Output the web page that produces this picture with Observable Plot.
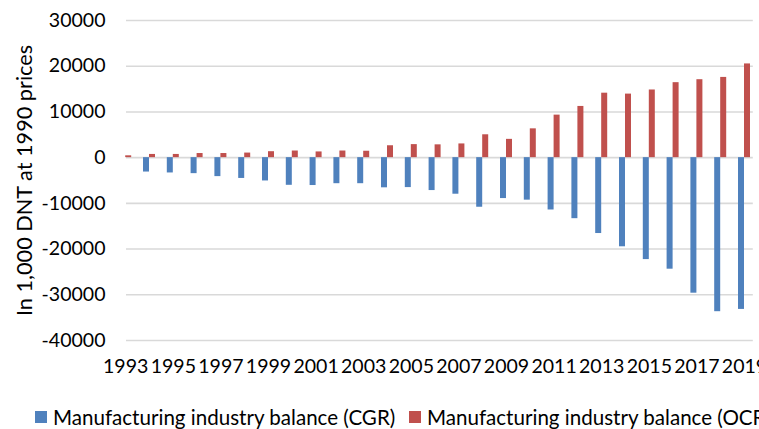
<!DOCTYPE html>
<html>
<head>
<meta charset="utf-8">
<script src="https://cdn.jsdelivr.net/npm/d3@7"></script>
<script src="https://cdn.jsdelivr.net/npm/@observablehq/plot@0.6"></script>
<style>
  html, body { margin: 0; padding: 0; overflow: hidden; background: #fff; }
  body { width: 759px; height: 429px; font-family: Lato, "Open Sans", sans-serif; }
  #chart { width: 759px; overflow: hidden; }
  #legend { position: relative; height: 39px; color: #000; white-space: nowrap; }
  .item { position: absolute; display: flex; align-items: center; height: 30px; top: 12px; }
  .sw { width: 12px; height: 12px; margin-right: 6px; flex: none; }
</style>
</head>
<body>
<div id="chart"></div>
<div id="legend"></div>
<script>
const years = [1993,1994,1995,1996,1997,1998,1999,2000,2001,2002,2003,2004,2005,2006,2007,2008,2009,2010,2011,2012,2013,2014,2015,2016,2017,2018,2019];
const cgr = [null,-3150,-3350,-3500,-4150,-4550,-5100,-6050,-6100,-5700,-5700,-6600,-6550,-7200,-8000,-10850,-8950,-9300,-11450,-13350,-16600,-19500,-22300,-24400,-29650,-33700,-33200];
const ocr = [400,700,700,900,900,1000,1300,1450,1250,1450,1400,2600,2850,2800,3000,5000,4000,6300,9300,11200,14100,13900,14800,16400,17050,17550,20500];
const seriesNames = ["Manufacturing industry balance (CGR)", "Manufacturing industry balance (OCR)"];
const colors = ["#4f81bd", "#c0504d"];
const yTicks = [-40000,-30000,-20000,-10000,0,10000,20000,30000];
const xTicks = years.filter(y => y % 2 === 1);
const yTitle = "In 1,000 DNT at 1990 prices";

const family = "Lato";
const ctx = document.createElement("canvas").getContext("2d");
function fit(text, target) {
  ctx.font = "100px " + family;
  const w = ctx.measureText(text).width;
  return w > 0 ? 100 * target / w : 18;
}
const fsY = fit("-40000", 64);
const fsX = Math.max(fit("1993", 44.5), fsY);
const fsTitle = fit(yTitle, 272);
const fsLegend = fit(seriesNames[0], 343);

const cgrData = years.map((y, i) => ({year: y, value: cgr[i]})).filter(d => d.value != null);
const ocrData = years.map((y, i) => ({year: y, value: ocr[i]}));

const step = 23.8;
const bw = 6;
const half = step / 2;
const mLeft = 113.3;
const mRight = 759 - (mLeft + step * years.length);

const chart = Plot.plot({
  width: 759,
  height: 390,
  marginTop: 20,
  marginBottom: 50,
  marginLeft: mLeft,
  marginRight: mRight,
  style: {fontFamily: family + ", 'Open Sans', sans-serif", fontSize: "18px", color: "#000", background: "#fff", overflow: "hidden"},
  x: {type: "band", domain: years, padding: 0, round: false},
  y: {domain: [-40000, 30000]},
  marks: [
    Plot.gridY(yTicks, {stroke: "#d9d9d9", strokeOpacity: 1, strokeWidth: 1.6, insetLeft: 126 - mLeft, insetRight: mRight}),
    Plot.barY(cgrData, {x: "year", y: "value", fill: colors[0], insetLeft: half - bw, insetRight: half}),
    Plot.barY(ocrData, {x: "year", y: "value", fill: colors[1], insetLeft: half, insetRight: half - bw}),
    Plot.axisY(yTicks, {tickSize: 0, tickPadding: mLeft - 105, tickFormat: d => String(d), fontSize: fsY, label: null}),
    Plot.axisX(xTicks, {tickSize: 0, tickPadding: 19, tickFormat: d => String(d), fontSize: fsX, label: null}),
    Plot.text([yTitle], {frameAnchor: "left", dx: 25 - mLeft, rotate: -90, fontSize: fsTitle, textAnchor: "middle", lineAnchor: "middle", fill: "#000"})
  ]
});
document.getElementById("chart").appendChild(chart);

const legend = document.getElementById("legend");
legend.style.fontSize = fsLegend + "px";
const lx = [35, 409];
seriesNames.forEach((name, i) => {
  const item = document.createElement("div");
  item.className = "item";
  item.style.left = lx[i] + "px";
  const sw = document.createElement("span");
  sw.className = "sw";
  sw.style.background = colors[i];
  const t = document.createElement("span");
  t.textContent = name;
  item.appendChild(sw);
  item.appendChild(t);
  legend.appendChild(item);
});
</script>
</body>
</html>
